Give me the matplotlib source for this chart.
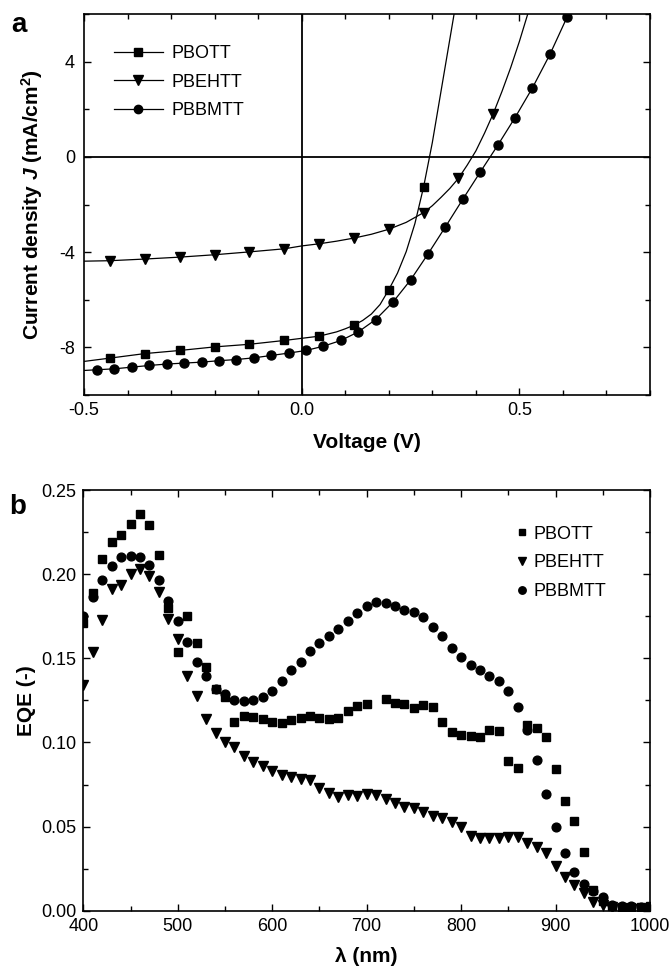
import matplotlib
matplotlib.use('Agg')
import numpy as np
import matplotlib.pyplot as plt
from matplotlib.ticker import MultipleLocator, FormatStrFormatter
from matplotlib.lines import Line2D

plt.rcParams['font.family'] = ['Liberation Sans', 'DejaVu Sans']
plt.rcParams['axes.unicode_minus'] = False
plt.rcParams['mathtext.fontset'] = 'custom'
plt.rcParams['mathtext.rm'] = 'Liberation Sans'
plt.rcParams['mathtext.it'] = 'Liberation Sans:italic'
plt.rcParams['mathtext.bf'] = 'Liberation Sans:bold'
plt.rcParams['mathtext.bfit'] = 'Liberation Sans:bold:italic'

# ---------------- Panel a: J-V data ----------------
series_names = ['PBOTT', 'PBEHTT', 'PBBMTT']

# PBOTT markers
V_pbott = [-0.44, -0.36, -0.28, -0.20, -0.12, -0.04, 0.04, 0.12, 0.20, 0.28]
J_pbott = [-8.45, -8.26, -8.13, -7.98, -7.87, -7.71, -7.53, -7.07, -5.58, -1.26]
# PBOTT fitted curve
V_pbott_fit = [-0.50, -0.44, -0.36, -0.28, -0.20, -0.12, -0.04, 0.04, 0.08, 0.10, 0.12,
               0.14, 0.16, 0.18, 0.20, 0.22, 0.24, 0.26, 0.28, 0.30, 0.35]
J_pbott_fit = [-8.59, -8.45, -8.26, -8.13, -7.98, -7.87, -7.71, -7.53, -7.35, -7.22, -7.07,
               -6.87, -6.60, -6.20, -5.58, -4.88, -3.98, -2.80, -1.26, 0.60, 6.0]

# PBEHTT markers
V_pbehtt = [-0.44, -0.36, -0.28, -0.20, -0.12, -0.04, 0.04, 0.12, 0.20, 0.28, 0.36, 0.44]
J_pbehtt = [-4.36, -4.29, -4.21, -4.11, -3.99, -3.86, -3.65, -3.41, -3.04, -2.34, -0.90, 1.82]
V_pbehtt_fit = [-0.50, -0.44, -0.36, -0.28, -0.20, -0.12, -0.04, 0.0, 0.04, 0.08, 0.12, 0.16,
                0.20, 0.24, 0.28, 0.30, 0.32, 0.34, 0.36, 0.38, 0.40, 0.42, 0.44, 0.46,
                0.48, 0.50, 0.52]
J_pbehtt_fit = [-4.38, -4.36, -4.29, -4.21, -4.11, -3.99, -3.86, -3.74, -3.65, -3.54, -3.41, -3.25,
                -3.04, -2.75, -2.34, -2.05, -1.70, -1.33, -0.90, -0.35, 0.25, 1.00, 1.82, 2.75,
                3.75, 4.85, 6.05]

# PBBMTT markers
V_pbbmtt = [-0.47, -0.43, -0.39, -0.35, -0.31, -0.27, -0.23, -0.19, -0.15, -0.11,
            -0.07, -0.03, 0.01, 0.05, 0.09, 0.13, 0.17, 0.21, 0.25, 0.29,
            0.33, 0.37, 0.41, 0.45, 0.49, 0.53, 0.57, 0.61]
J_pbbmtt = [-8.94, -8.90, -8.83, -8.76, -8.70, -8.66, -8.62, -8.56, -8.51, -8.44,
            -8.34, -8.24, -8.13, -7.95, -7.71, -7.35, -6.83, -6.09, -5.17, -4.08,
            -2.94, -1.78, -0.64, 0.48, 1.65, 2.90, 4.30, 5.89]
V_pbbmtt_fit = [-0.50] + V_pbbmtt + [0.615]
J_pbbmtt_fit = [-8.97] + J_pbbmtt + [6.10]

# ---------------- Panel b: EQE data ----------------
wavelength = [400, 410, 420, 430, 440, 450, 460, 470, 480, 490,
              500, 510, 520, 530, 540, 550, 560, 570, 580, 590,
              600, 610, 620, 630, 640, 650, 660, 670, 680, 690,
              700, 710, 720, 730, 740, 750, 760, 770, 780, 790,
              800, 810, 820, 830, 840, 850, 860, 870, 880, 890,
              900, 910, 920, 930, 940, 950, 960, 970, 980, 990, 1000]

eqe_pbott = [0.171, 0.189, 0.209, 0.219, 0.223, 0.230, 0.236, 0.229, 0.2115, 0.180,
             0.1536, 0.175, 0.159, 0.1446, 0.132, 0.127, 0.112, 0.1159, 0.1151, 0.1139,
             0.1119, 0.1115, 0.1131, 0.1145, 0.1155, 0.1145, 0.1139, 0.1145, 0.1185, 0.1214,
             0.1229, np.nan, 0.1258, 0.1237, 0.1230, 0.1205, 0.1223, 0.1208, 0.1120, 0.1064,
             0.1047, 0.1040, 0.1032, 0.1076, 0.1071, 0.0887, 0.0850, 0.1103, 0.1086, 0.1031,
             0.0844, 0.0653, 0.0536, 0.0349, 0.0121, 0.006, 0.003, 0.002, 0.002, 0.002, 0.003]

eqe_pbehtt = [0.1343, 0.1536, 0.173, 0.1913, 0.1933, 0.2002, 0.2028, 0.1992, 0.1893, 0.1735,
              0.1615, 0.1397, 0.1278, 0.1137, 0.1056, 0.1000, 0.0973, 0.0917, 0.0883, 0.0861,
              0.0833, 0.0808, 0.0794, 0.0784, 0.0774, 0.0729, 0.0702, 0.0677, 0.0689, 0.0683,
              0.0695, 0.0689, 0.0663, 0.0639, 0.0619, 0.0609, 0.0589, 0.0564, 0.0554, 0.0530,
              0.0500, 0.0445, 0.0431, 0.0431, 0.0435, 0.0440, 0.0440, 0.0405, 0.0381, 0.0342,
              0.0266, 0.0199, 0.0153, 0.0104, 0.0054, 0.0034, 0.002, 0.001, 0.001, 0.001, 0.001]

eqe_pbbmtt = [0.175, 0.1863, 0.1964, 0.2048, 0.2101, 0.2111, 0.2103, 0.2052, 0.1964, 0.1839,
              0.1724, 0.1595, 0.148, 0.1393, 0.132, 0.129, 0.125, 0.1246, 0.125, 0.1268,
              0.1308, 0.1363, 0.1429, 0.1479, 0.1541, 0.1589, 0.1633, 0.1675, 0.1724, 0.1772,
              0.1812, 0.1832, 0.1828, 0.1808, 0.1790, 0.1774, 0.1744, 0.1687, 0.1635, 0.1562,
              0.1508, 0.1461, 0.1429, 0.1397, 0.1363, 0.1304, 0.1211, 0.1076, 0.0897, 0.0693,
              0.0500, 0.0345, 0.0230, 0.0159, 0.0115, 0.0083, 0.0034, 0.0030, 0.0030, 0.0024, 0.0024]

# ---------------- Figure ----------------
fig = plt.figure(figsize=(6.72, 9.66), dpi=100)
axa = fig.add_axes([0.125, 0.5911, 0.8423, 0.3944])
axb = fig.add_axes([0.124, 0.0572, 0.8433, 0.4355])

lw = 0.9
axa.axhline(0, color='k', lw=1.3, zorder=1)
axa.axvline(0, color='k', lw=1.3, zorder=1)
axa.plot(V_pbott_fit, J_pbott_fit, color='k', lw=lw, zorder=2)
axa.plot(V_pbehtt_fit, J_pbehtt_fit, color='k', lw=lw, zorder=2)
axa.plot(V_pbbmtt_fit, J_pbbmtt_fit, color='k', lw=lw, zorder=2)
axa.plot(V_pbott, J_pbott, ls='none', marker='s', ms=5.5, color='k', zorder=3)
axa.plot(V_pbehtt, J_pbehtt, ls='none', marker='v', ms=7.5, color='k', zorder=3)
axa.plot(V_pbbmtt, J_pbbmtt, ls='none', marker='o', ms=6.5, color='k', zorder=3)

axa.set_xlim(-0.5, 0.8)
axa.set_ylim(-10, 6)
axa.xaxis.set_major_locator(MultipleLocator(0.5))
axa.xaxis.set_minor_locator(MultipleLocator(0.1))
axa.yaxis.set_major_locator(MultipleLocator(4))
axa.yaxis.set_minor_locator(MultipleLocator(2))
axa.xaxis.set_major_formatter(FormatStrFormatter('%.1f'))

handles_a = [Line2D([], [], color='k', lw=lw, marker='s', ms=5.5),
             Line2D([], [], color='k', lw=lw, marker='v', ms=7),
             Line2D([], [], color='k', lw=lw, marker='o', ms=6)]
axa.legend(handles_a, series_names, loc='upper left', bbox_to_anchor=(0.053, 0.919),
           frameon=False, fontsize=13, handlelength=2.7, handletextpad=0.5,
           labelspacing=0.65, borderpad=0, borderaxespad=0)

axa.set_xlabel('Voltage (V)', fontsize=15, fontweight='bold')
axa.set_ylabel(r'Current density $\mathbfit{J}$ (mA/cm$^\mathbf{2}$)', fontsize=15,
               fontweight='bold')
axa.xaxis.set_label_coords(0.5, -0.1399)
axa.xaxis.label.set_va('baseline')
axa.yaxis.set_label_coords(-0.079, 0.5)
axa.yaxis.label.set_va('baseline')

# Panel b
axb.plot(wavelength, eqe_pbott, ls='none', marker='s', ms=5.5, color='k', zorder=4,
         label='PBOTT')
axb.plot(wavelength, eqe_pbehtt, ls='none', marker='v', ms=7, color='k', zorder=2,
         label='PBEHTT')
axb.plot(wavelength, eqe_pbbmtt, ls='none', marker='o', ms=6.3, color='k', zorder=3,
         label='PBBMTT')
axb.set_xlim(400, 1000)
axb.set_ylim(0, 0.25)
axb.xaxis.set_major_locator(MultipleLocator(100))
axb.xaxis.set_minor_locator(MultipleLocator(50))
axb.yaxis.set_major_locator(MultipleLocator(0.05))
axb.yaxis.set_minor_locator(MultipleLocator(0.025))
axb.yaxis.set_major_formatter(FormatStrFormatter('%.2f'))
axb.legend(loc='upper left', bbox_to_anchor=(0.759, 0.9155), frameon=False, fontsize=13,
           handlelength=1.0, handletextpad=0.1, labelspacing=0.65, borderpad=0,
           borderaxespad=0, markerscale=0.85)
axb.set_xlabel(r'λ (nm)', fontsize=15, fontweight='bold')
axb.set_ylabel('EQE (-)', fontsize=15, fontweight='bold')
axb.xaxis.set_label_coords(0.5, -0.1212)
axb.xaxis.label.set_va('baseline')
axb.yaxis.set_label_coords(-0.091, 0.5)
axb.yaxis.label.set_va('baseline')

for ax, ypad in ((axa, 6.5), (axb, 4.8)):
    ax.tick_params(which='both', direction='in', top=True, right=True, labelsize=13,
                   width=1.0, color='k')
    ax.tick_params(which='major', length=5)
    ax.tick_params(which='minor', length=3.5)
    ax.tick_params(axis='y', which='major', pad=ypad)
    ax.tick_params(axis='x', which='major', pad=5)
    for s in ax.spines.values():
        s.set_linewidth(1.2)

fig.text(0.0174, 0.9672, 'a', fontsize=20, fontweight='bold', ha='left', va='baseline')
fig.text(0.0138, 0.4679, 'b', fontsize=20, fontweight='bold', ha='left', va='baseline')

fig.savefig('out.png', dpi=100)
